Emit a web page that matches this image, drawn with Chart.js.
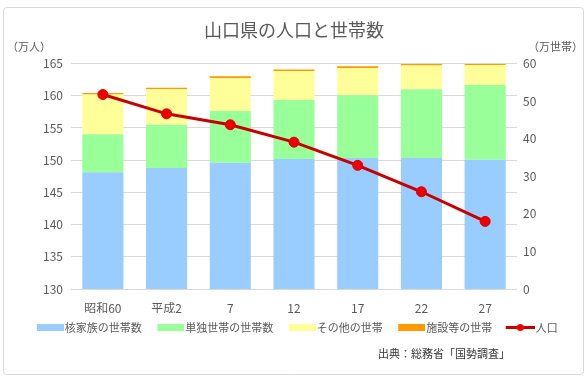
<!DOCTYPE html>
<html>
<head>
<meta charset="utf-8">
<script src="https://cdn.jsdelivr.net/npm/chart.js@4/dist/chart.umd.min.js"></script>
<style>
html,body{margin:0;padding:0;background:#fff;}
#wrap{width:588px;height:380px;position:relative;}
</style>
</head>
<body>
<div id="wrap"><canvas id="c" width="588" height="380"></canvas></div>
<script>
const categories = ['昭和60', '平成2', '7', '12', '17', '22', '27'];
const nuclearHouseholds = [31.1, 32.2, 33.6, 34.6, 34.9, 34.9, 34.4];
const singleHouseholds = [10.1, 11.5, 13.8, 15.7, 16.7, 18.3, 19.9];
const otherHouseholds = [10.6, 9.5, 8.7, 7.7, 7.2, 6.3, 5.3];
const facilityHouseholds = [0.4, 0.4, 0.5, 0.4, 0.5, 0.4, 0.3];
const population = [160.2, 157.2, 155.5, 152.8, 149.2, 145.1, 140.5];
const leftTicks = [130, 135, 140, 145, 150, 155, 160, 165];
const rightTicks = [0, 10, 20, 30, 40, 50, 60];
const seriesNames = ['核家族の世帯数', '単独世帯の世帯数', 'その他の世帯', '施設等の世帯', '人口'];

const FONT = '"Noto Sans CJK JP", "Noto Sans", sans-serif';
const GREY = '#595959';
const colors = ['#99CCFF', '#99FF99', '#FFFF99', '#FF9900'];
const lineColor = '#C80000';

function swatch(color) {
  const c = document.createElement('canvas');
  c.width = 38; c.height = 7;
  const g = c.getContext('2d');
  g.fillStyle = color; g.fillRect(11, 0, 27, 7);
  return c;
}
function lineSwatch() {
  const c = document.createElement('canvas');
  c.width = 38; c.height = 9;
  const g = c.getContext('2d');
  g.strokeStyle = lineColor; g.lineWidth = 3;
  g.beginPath(); g.moveTo(9, 4.5); g.lineTo(38, 4.5); g.stroke();
  g.fillStyle = '#EE0000';
  g.beginPath(); g.arc(23.5, 4.5, 3.5, 0, Math.PI * 2); g.fill();
  return c;
}

const decor = {
  id: 'decor',
  beforeDraw(chart) {
    const ctx = chart.ctx;
    ctx.save();
    ctx.fillStyle = '#fff';
    ctx.fillRect(0, 0, chart.width, chart.height);
    ctx.strokeStyle = '#D9D9D9';
    ctx.lineWidth = 1;
    ctx.beginPath();
    ctx.roundRect(3.5, 7.5, 580, 367, 3);
    ctx.stroke();
    ctx.restore();
  },
  afterDraw(chart) {
    const ctx = chart.ctx;
    ctx.save();
    ctx.fillStyle = GREY;
    ctx.font = '11px ' + FONT;
    ctx.textBaseline = 'middle';
    ctx.textAlign = 'left';
    ctx.fillText('（万人）', 7, 47);
    ctx.fillText('（万世帯）', 528, 47);
    ctx.fillStyle = '#333333';
    ctx.textAlign = 'right';
    ctx.fillText('出典：総務省「国勢調査」', 510, 354);
    ctx.restore();
  }
};

const barSets = [nuclearHouseholds, singleHouseholds, otherHouseholds, facilityHouseholds].map((d, i) => ({
  type: 'bar',
  label: seriesNames[i],
  data: d,
  backgroundColor: colors[i],
  borderWidth: 0,
  yAxisID: 'y1',
  stack: 'hh',
  order: 2,
  barPercentage: 0.645,
  categoryPercentage: 1.0
}));

const lineSet = {
  type: 'line',
  label: seriesNames[4],
  data: population,
  borderColor: lineColor,
  backgroundColor: '#EE0000',
  borderWidth: 3,
  pointRadius: 5,
  pointBackgroundColor: '#EE0000',
  pointBorderColor: '#DD0000',
  pointBorderWidth: 1,
  yAxisID: 'y',
  order: 0,
  tension: 0
};

const legendImgs = [swatch(colors[0]), swatch(colors[1]), swatch(colors[2]), swatch(colors[3]), lineSwatch()];

new Chart(document.getElementById('c'), {
  data: { labels: categories, datasets: [...barSets, lineSet] },
  options: {
    responsive: false,
    animation: false,
    layout: { padding: { left: 0, right: 0, top: 0, bottom: 37 } },
    plugins: {
      title: {
        display: true,
        text: '山口県の人口と世帯数',
        color: GREY,
        font: { family: FONT, size: 18, weight: 'normal' },
        padding: { top: 19, bottom: 23 }
      },
      legend: {
        position: 'bottom',
        labels: {
          color: GREY,
          font: { family: FONT, size: 11 },
          usePointStyle: true,
          pointStyleWidth: 29,
          padding: 9,
          generateLabels(chart) {
            return chart.data.datasets.map((ds, i) => ({
              text: ds.label,
              pointStyle: legendImgs[i],
              fillStyle: 'transparent',
              strokeStyle: 'transparent',
              lineWidth: 0,
              fontColor: GREY,
              datasetIndex: i,
              hidden: false
            }));
          }
        }
      },
      tooltip: { enabled: false }
    },
    scales: {
      x: {
        stacked: true,
        grid: { display: false },
        border: { display: false },
        ticks: { color: GREY, font: { family: FONT, size: 12 }, padding: 4 },
        afterFit(s) { s.height = 24; }
      },
      y: {
        position: 'left',
        min: 130, max: 165,
        afterBuildTicks(s) { s.ticks = leftTicks.map(v => ({ value: v })); },
        grid: { color: '#D9D9D9', drawTicks: false },
        border: { display: false },
        ticks: { color: GREY, font: { family: FONT, size: 12 }, padding: 8 },
        afterFit(s) { s.width = 71; }
      },
      y1: {
        position: 'right',
        stacked: true,
        min: 0, max: 60,
        afterBuildTicks(s) { s.ticks = rightTicks.map(v => ({ value: v })); },
        grid: { display: false, drawTicks: false },
        border: { display: false },
        ticks: { color: GREY, font: { family: FONT, size: 12 }, padding: 6 },
        afterFit(s) { s.width = 71; }
      }
    }
  },
  plugins: [decor]
});
</script>
</body>
</html>
